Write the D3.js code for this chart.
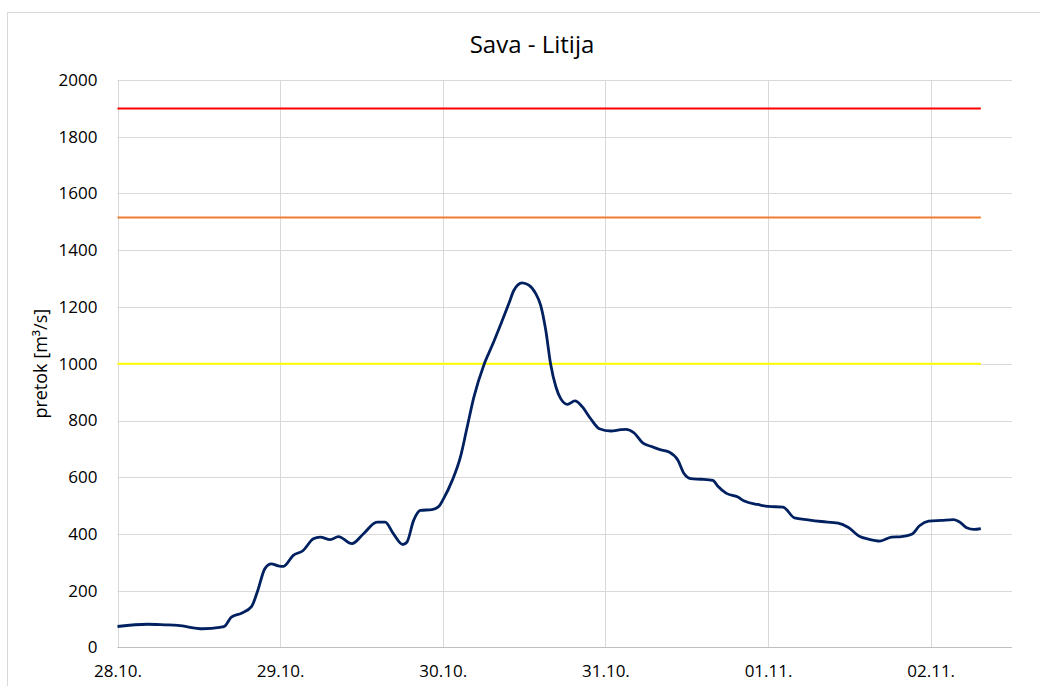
<!DOCTYPE html>
<html>
<head>
<meta charset="utf-8">
<script src="https://cdn.jsdelivr.net/npm/d3@7.9.0/dist/d3.min.js"></script>
<style>
  html, body { margin: 0; padding: 0; background: #fff; }
  svg { display: block; font-family: "Open Sans", sans-serif; }
</style>
</head>
<body>
<svg id="chart" width="1040" height="686"></svg>
<script>
// hours since 28.10. 00:00 and measured discharge (m3/s)
const hours = [0, 4.4, 7, 8.9, 12.6, 15.1, 15.8, 16.8, 18.3, 19.8, 20.7, 21.75, 22.7, 23.7,
  24.5, 25.9, 27.4, 28.9, 29.9, 31.4, 32.6, 34.6, 36.3, 38.3, 39.5, 40.7, 42.1, 42.7,
  43.7, 44.7, 46.4, 47.4, 48.1, 49.4, 50.6, 51.6, 52.6, 54.05, 55.3, 56.5, 57.75, 58.5,
  59.7, 60.7, 61.7, 62.45, 63.2, 63.9, 64.7, 65.4, 66.4, 67.5, 68.6, 69.8, 71.1, 72.8,
  74.3, 75, 76.25, 77.5, 78.7, 79.95, 81.4, 82.7, 83.6, 84.6, 86.1, 87.85, 88.6, 89.8,
  91.55, 92.5, 94.5, 96, 98.2, 99.9, 101.9, 103.9, 106.35, 107.8, 109.55, 110.8, 112.5,
  114.2, 115.7, 117.2, 118.4, 119.7, 121.6, 123.4, 124.3, 125.3, 126.4, 127.4];
const flow = [74, 82, 80, 78, 66, 71, 75, 107, 121, 145, 201, 278, 295, 288,
  286, 324, 342, 383, 389, 380, 391, 366, 401, 442, 442, 401, 363, 371,
  448, 483, 486, 497, 524, 589, 671, 777, 883, 995, 1065, 1136, 1212, 1259,
  1285, 1277, 1248, 1206, 1118, 1001, 918, 877, 857, 869, 848, 807, 771, 763,
  768, 769, 756, 721, 709, 698, 689, 660, 613, 595, 593, 589, 568, 544,
  530, 516, 504, 497, 495, 457, 450, 444, 438, 424, 391, 382, 375,
  389, 391, 399, 430, 445, 448, 451, 442, 422, 416, 419];

// warning levels
const levelValues = [1900, 1515, 1000];
const levelColors = ['#ff0000', '#ed7d31', '#ffff00'];

const dayLabels = ['28.10.', '29.10.', '30.10.', '31.10.', '01.11.', '02.11.'];
const yTicks = [0, 200, 400, 600, 800, 1000, 1200, 1400, 1600, 1800, 2000];

const start = new Date(2023, 9, 28, 0, 0);
const hourMs = 3600 * 1000;
const data = hours.map((h, i) => ({ t: new Date(start.getTime() + h * hourMs), v: flow[i] }));
const dayDates = dayLabels.map((d, i) => new Date(start.getTime() + i * 24 * hourMs));

const svg = d3.select('#chart');
const plotLeft = 117.5, plotRight = 1012, plotTop = 80, plotBottom = 647.5;

const x = d3.scaleTime()
  .domain([start, new Date(start.getTime() + 132 * hourMs)])
  .range([plotLeft, plotRight]);
const y = d3.scaleLinear().domain([0, 2000]).range([plotBottom, plotTop]);

// chart area border
svg.append('rect')
  .attr('x', 7.5).attr('y', 12.5)
  .attr('width', 1100).attr('height', 800)
  .attr('fill', 'none').attr('stroke', '#d9d9d9');

// title
svg.append('text')
  .attr('x', 532).attr('y', 53)
  .attr('text-anchor', 'middle')
  .attr('font-size', 24)
  .attr('fill', '#000')
  .text('Sava - Litija');

// horizontal gridlines
svg.append('g')
  .selectAll('line')
  .data(yTicks.filter(d => d > 0))
  .join('line')
  .attr('x1', plotLeft).attr('x2', plotRight)
  .attr('y1', d => Math.round(y(d)) + 0.5).attr('y2', d => Math.round(y(d)) + 0.5)
  .attr('stroke', '#d9d9d9');

// vertical gridlines
svg.append('g')
  .selectAll('line')
  .data(dayDates)
  .join('line')
  .attr('x1', d => Math.round(x(d)) + 0.5).attr('x2', d => Math.round(x(d)) + 0.5)
  .attr('y1', plotTop).attr('y2', plotBottom)
  .attr('stroke', '#d9d9d9');

// bottom axis line
svg.append('line')
  .attr('x1', plotLeft).attr('x2', plotRight)
  .attr('y1', plotBottom).attr('y2', plotBottom)
  .attr('stroke', '#bfbfbf');

// y axis labels
const yAxis = svg.append('g')
  .attr('transform', `translate(${plotLeft - 20},0)`)
  .call(d3.axisLeft(y).tickValues(yTicks).tickSize(0).tickPadding(0).tickFormat(d3.format('d')));
yAxis.select('.domain').remove();
yAxis.selectAll('text')
  .attr('font-family', '"Open Sans", sans-serif')
  .attr('font-size', 17)
  .attr('fill', '#000');

// x axis labels
const xAxis = svg.append('g')
  .attr('transform', `translate(0,${plotBottom + 17})`)
  .call(d3.axisBottom(x).tickValues(dayDates).tickSize(0).tickPadding(0)
    .tickFormat((d, i) => dayLabels[i]));
xAxis.select('.domain').remove();
xAxis.selectAll('text')
  .attr('font-family', '"Open Sans", sans-serif')
  .attr('font-size', 17)
  .attr('fill', '#000');

// y axis title
svg.append('text')
  .attr('transform', `translate(47,${(plotTop + plotBottom) / 2}) rotate(-90)`)
  .attr('text-anchor', 'middle')
  .attr('font-size', 18)
  .attr('fill', '#000')
  .text('pretok [m³/s]');

// warning level lines
const lastT = data[data.length - 1].t;
svg.append('g')
  .selectAll('line')
  .data(levelValues)
  .join('line')
  .attr('x1', plotLeft).attr('x2', x(lastT))
  .attr('y1', d => y(d)).attr('y2', d => y(d))
  .attr('stroke', (d, i) => levelColors[i])
  .attr('stroke-width', 2);

// discharge line
const line = d3.line()
  .x(d => x(d.t))
  .y(d => y(d.v))
  .curve(d3.curveMonotoneX);

svg.append('path')
  .datum(data)
  .attr('d', line)
  .attr('fill', 'none')
  .attr('stroke', '#002060')
  .attr('stroke-width', 2.8)
  .attr('stroke-linejoin', 'round');
</script>
</body>
</html>
